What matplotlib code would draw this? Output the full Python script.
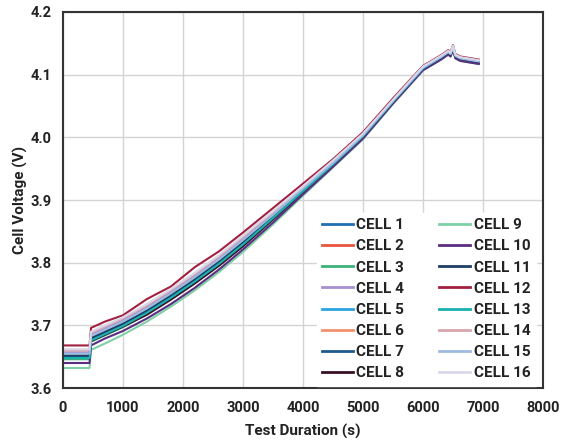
import matplotlib
matplotlib.use("Agg")
import matplotlib.pyplot as plt

plt.rcParams['font.family'] = ['Roboto', 'DejaVu Sans']

# Sample times (s)
time_s = [0, 445, 470, 700, 1000, 1400, 1800, 2200, 2600, 3000, 3500, 4000,
          4500, 5000, 5500, 6000, 6300, 6420, 6460, 6500, 6540, 6620, 6930]

# Cell voltages (V) at the sample times
cell_1 = [3.650, 3.650, 3.678, 3.688, 3.701, 3.722, 3.746, 3.772, 3.800, 3.831, 3.872, 3.915,
          3.957, 4.001, 4.056, 4.110, 4.127, 4.135, 4.132, 4.143, 4.129, 4.125, 4.120]
cell_2 = [3.649, 3.649, 3.677, 3.687, 3.700, 3.721, 3.745, 3.771, 3.799, 3.830, 3.872, 3.914,
          3.957, 4.001, 4.056, 4.109, 4.126, 4.134, 4.131, 4.142, 4.128, 4.124, 4.119]
cell_3 = [3.646, 3.646, 3.674, 3.684, 3.697, 3.718, 3.742, 3.768, 3.796, 3.827, 3.869, 3.912,
          3.955, 4.000, 4.055, 4.109, 4.126, 4.134, 4.131, 4.142, 4.128, 4.124, 4.119]
cell_4 = [3.657, 3.657, 3.685, 3.695, 3.708, 3.729, 3.753, 3.779, 3.807, 3.838, 3.878, 3.919,
          3.960, 4.004, 4.059, 4.111, 4.128, 4.136, 4.133, 4.144, 4.130, 4.126, 4.121]
cell_5 = [3.650, 3.650, 3.678, 3.688, 3.701, 3.723, 3.748, 3.775, 3.803, 3.834, 3.875, 3.916,
          3.958, 4.002, 4.057, 4.110, 4.127, 4.135, 4.132, 4.143, 4.129, 4.125, 4.120]
cell_6 = [3.649, 3.649, 3.677, 3.687, 3.700, 3.721, 3.746, 3.772, 3.800, 3.831, 3.872, 3.914,
          3.957, 4.001, 4.056, 4.110, 4.127, 4.135, 4.132, 4.143, 4.129, 4.125, 4.120]
cell_7 = [3.651, 3.651, 3.679, 3.689, 3.702, 3.723, 3.747, 3.773, 3.801, 3.832, 3.873, 3.915,
          3.958, 4.002, 4.057, 4.110, 4.127, 4.135, 4.132, 4.143, 4.129, 4.125, 4.120]
cell_8 = [3.648, 3.648, 3.675, 3.685, 3.698, 3.717, 3.741, 3.767, 3.795, 3.826, 3.869, 3.912,
          3.955, 4.000, 4.055, 4.109, 4.126, 4.134, 4.131, 4.142, 4.128, 4.124, 4.119]
cell_9 = [3.632, 3.632, 3.661, 3.671, 3.685, 3.706, 3.730, 3.756, 3.785, 3.817, 3.861, 3.907,
          3.952, 3.997, 4.053, 4.107, 4.124, 4.132, 4.129, 4.140, 4.126, 4.122, 4.117]
cell_10 = [3.640, 3.640, 3.668, 3.679, 3.691, 3.711, 3.734, 3.760, 3.789, 3.821, 3.864, 3.909,
           3.953, 3.998, 4.054, 4.107, 4.124, 4.132, 4.129, 4.140, 4.126, 4.122, 4.117]
cell_11 = [3.652, 3.652, 3.680, 3.690, 3.703, 3.724, 3.748, 3.774, 3.802, 3.833, 3.874, 3.916,
           3.958, 4.002, 4.057, 4.110, 4.127, 4.135, 4.132, 4.143, 4.129, 4.125, 4.120]
cell_12 = [3.668, 3.668, 3.696, 3.706, 3.716, 3.742, 3.762, 3.793, 3.818, 3.848, 3.887, 3.926,
           3.965, 4.008, 4.062, 4.114, 4.131, 4.139, 4.136, 4.147, 4.133, 4.129, 4.124]
cell_13 = [3.648, 3.648, 3.676, 3.686, 3.699, 3.720, 3.744, 3.770, 3.798, 3.829, 3.871, 3.914,
           3.957, 4.002, 4.057, 4.110, 4.128, 4.136, 4.134, 4.145, 4.131, 4.127, 4.122]
cell_14 = [3.660, 3.660, 3.688, 3.698, 3.711, 3.732, 3.756, 3.782, 3.810, 3.841, 3.880, 3.921,
           3.962, 4.005, 4.059, 4.112, 4.129, 4.137, 4.134, 4.145, 4.131, 4.127, 4.122]
cell_15 = [3.655, 3.655, 3.683, 3.693, 3.706, 3.727, 3.751, 3.777, 3.805, 3.836, 3.876, 3.918,
           3.959, 4.003, 4.058, 4.111, 4.128, 4.136, 4.133, 4.144, 4.130, 4.126, 4.121]
cell_16 = [3.662, 3.662, 3.690, 3.700, 3.713, 3.734, 3.758, 3.784, 3.812, 3.843, 3.882, 3.922,
           3.963, 4.006, 4.060, 4.113, 4.130, 4.138, 4.135, 4.146, 4.132, 4.128, 4.123]

cell_names = ["CELL %d" % i for i in range(1, 17)]
cell_values = [cell_1, cell_2, cell_3, cell_4, cell_5, cell_6, cell_7, cell_8,
               cell_9, cell_10, cell_11, cell_12, cell_13, cell_14, cell_15, cell_16]
cell_colors = ["#1f6fb2", "#e8553f", "#3cb37a", "#a58fd0", "#2aa5e0", "#f29070",
               "#1e5a8c", "#3a0f24", "#7fd0a5", "#5a2d82", "#1d3f63", "#a3203f",
               "#1ab0b0", "#d9a5ad", "#9dbbe0", "#d8d8ea"]

x_ticks = [0, 1000, 2000, 3000, 4000, 5000, 6000, 7000, 8000]
y_ticks = [3.6, 3.7, 3.8, 3.9, 4.0, 4.1, 4.2]

fig = plt.figure(figsize=(5.71, 4.43), dpi=100)
ax = fig.add_axes([0.110, 0.124, 0.841, 0.849])

for name, vals, col in zip(cell_names, cell_values, cell_colors):
    ax.plot(time_s, vals, color=col, lw=1.5, label=name)

ax.set_xlim(0, 8000)
ax.set_ylim(3.6, 4.2)
ax.set_xticks(x_ticks)
ax.set_yticks(y_ticks)
ax.set_xticklabels([str(t) for t in x_ticks])
ax.set_yticklabels(["%.1f" % v for v in y_ticks])
ax.grid(True, color="#d4d4d4", lw=1.0)
ax.set_axisbelow(True)
ax.tick_params(axis="x", length=0, pad=9, labelsize=10.5, colors="#222222")
ax.tick_params(axis="y", length=0, pad=8, labelsize=10.5, colors="#222222")
for lab in ax.get_xticklabels() + ax.get_yticklabels():
    lab.set_fontweight("bold")
for sp in ax.spines.values():
    sp.set_color("#333333")
    sp.set_linewidth(1.5)

ax.set_xlabel("Test Duration (s)", fontsize=11, fontweight="bold", color="#222222")
ax.set_ylabel("Cell Voltage (V)", fontsize=11, fontweight="bold", color="#222222")
ax.xaxis.set_label_coords(0.5, -0.095)
ax.yaxis.set_label_coords(-0.072, 0.5)

leg = ax.legend(ncol=2, loc="lower right", bbox_to_anchor=(0.985, 0.006),
                borderaxespad=0.0,
                frameon=True, facecolor="white", edgecolor="white", framealpha=1.0,
                fancybox=False, handlelength=2.0, handletextpad=0.25,
                labelspacing=0.47, columnspacing=2.3, borderpad=0.35,
                prop={"weight": "bold", "size": 11})
for txt in leg.get_texts():
    txt.set_color("#222222")
for line in leg.get_lines():
    line.set_linewidth(2.0)

fig.savefig("out.png", dpi=100)
